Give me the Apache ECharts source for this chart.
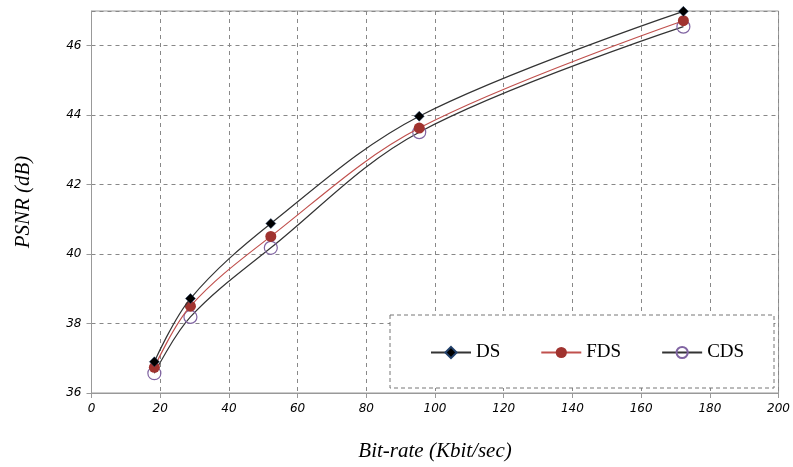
<!DOCTYPE html>
<html>
<head>
<meta charset="utf-8">
<script src="https://cdn.jsdelivr.net/npm/echarts@6/dist/echarts.min.js"></script>
<style>
  html, body { margin: 0; padding: 0; background: #fff; }
  #chart { width: 793px; height: 467px; }
</style>
</head>
<body>
<div id="chart"></div>
<script>
// bit-rate (Kbit/sec) of each coded point
const bitrate = [18.3, 28.8, 52.2, 95.4, 172.3];
// PSNR (dB) per method
const psnrDS = [36.90, 38.72, 40.88, 43.97, 46.99];
const psnrFDS = [36.74, 38.50, 40.51, 43.63, 46.72];
const psnrCDS = [36.57, 38.19, 40.18, 43.51, 46.55];
const seriesNames = ['DS', 'FDS', 'CDS'];

const chart = echarts.init(document.getElementById('chart'));

function pairs(ys) {
  return bitrate.map((x, i) => [x, ys[i]]);
}

const tickFont = { fontFamily: 'DejaVu Sans', fontStyle: 'italic', fontSize: 12, color: '#000' };
const titleFont = { fontFamily: 'Liberation Serif', fontStyle: 'italic', fontSize: 21, color: '#000' };

chart.setOption({
  animation: false,
  grid: {
    left: 91.5, right: 10.5, top: 11, bottom: 73,
    show: true, borderColor: '#999', borderWidth: 1
  },
  legend: {
    data: seriesNames,
    left: 430,
    top: 343,
    z: 20,
    itemWidth: 40,
    itemHeight: 14,
    itemGap: 40,
    padding: 0,
    textStyle: { fontFamily: 'Liberation Serif', fontSize: 19, color: '#000' }
  },
  graphic: [{
    type: 'rect',
    shape: { x: 390, y: 315, width: 384, height: 73 },
    style: { fill: '#fff', stroke: '#777', lineWidth: 1, lineDash: [4, 3] },
    z: 5
  }],
  xAxis: {
    type: 'value',
    min: 0, max: 200, interval: 20,
    name: 'Bit-rate (Kbit/sec)',
    nameLocation: 'middle',
    nameGap: 48,
    nameTextStyle: titleFont,
    axisLine: { lineStyle: { color: '#999', width: 1 } },
    axisTick: { show: true, length: 5, lineStyle: { color: '#999' } },
    axisLabel: Object.assign({ margin: 10 }, tickFont),
    splitLine: { show: true, lineStyle: { color: '#888', type: [4, 4] } }
  },
  yAxis: {
    type: 'value',
    min: 36, max: 47, interval: 2,
    name: 'PSNR (dB)',
    nameLocation: 'middle',
    nameGap: 58,
    nameTextStyle: titleFont,
    axisLine: { show: true, lineStyle: { color: '#999', width: 1 } },
    axisTick: { show: true, length: 5, lineStyle: { color: '#999' } },
    axisLabel: Object.assign({ margin: 10, showMaxLabel: false }, tickFont),
    splitLine: { show: true, lineStyle: { color: '#888', type: [4, 4] } }
  },
  series: [
    {
      name: 'DS', type: 'line', data: pairs(psnrDS), smooth: 0.35,
      symbol: 'diamond', symbolSize: 10, clip: false, z: 12,
      lineStyle: { color: '#333', width: 1.2 },
      itemStyle: { color: '#000', borderColor: '#22406a', borderWidth: 0.5 }
    },
    {
      name: 'FDS', type: 'line', data: pairs(psnrFDS), smooth: 0.35,
      symbol: 'circle', symbolSize: 11, clip: false, z: 11,
      lineStyle: { color: '#c0504d', width: 1.2 },
      itemStyle: { color: '#a0332f', borderColor: '#a0332f', borderWidth: 0 }
    },
    {
      name: 'CDS', type: 'line', data: pairs(psnrCDS), smooth: 0.35,
      symbol: 'circle', symbolSize: 13, clip: false, z: 10,
      lineStyle: { color: '#333', width: 1.2 },
      itemStyle: { color: 'rgba(255,255,255,0)', borderColor: '#8064a2', borderWidth: 1.2 }
    }
  ]
});
</script>
</body>
</html>
